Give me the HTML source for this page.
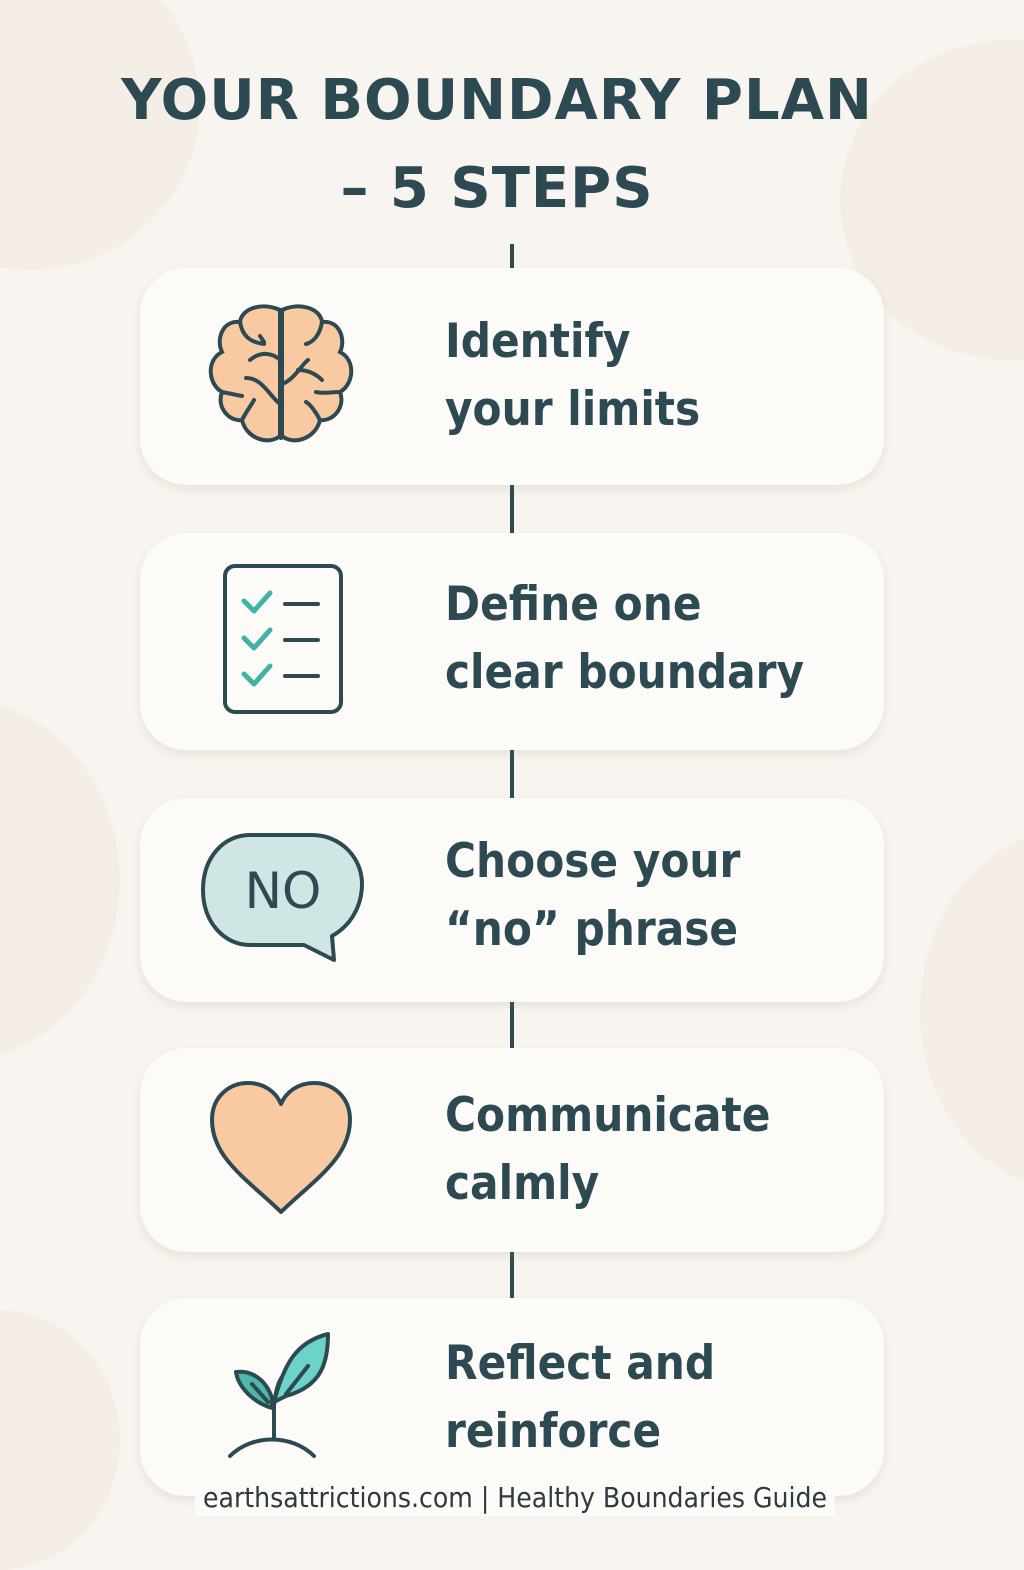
<!DOCTYPE html>
<html><head><meta charset="utf-8"><style>
body{margin:0;width:1024px;height:1536px;background:#f8f4ef;position:relative;overflow:hidden;font-family:"DejaVu Sans","Liberation Sans",sans-serif;color:#2d4a53}
.blob{position:absolute;border-radius:50%;background:#f5eee7}
.title{position:absolute;left:0;width:994px;text-align:center;font-weight:bold;font-size:56px;letter-spacing:1px;color:#2d4a53}
.card{position:absolute;left:140px;width:744px;background:#fcfbf8;border-radius:46px;box-shadow:0 4px 10px rgba(150,120,100,0.15)}
.txt{position:absolute;left:305px;font-size:47px;line-height:68px;font-weight:bold;font-family:"DejaVu Sans Condensed","DejaVu Sans",sans-serif;color:#2d4a53}
.line{position:absolute;left:510px;width:4px;background:#2d4a53}
svg{position:absolute}
</style></head><body>
<div class="blob" style="left:-140px;top:-60px;width:340px;height:330px"></div>
<div class="blob" style="left:840px;top:40px;width:340px;height:320px"></div>
<div class="blob" style="left:-200px;top:700px;width:320px;height:360px"></div>
<div class="blob" style="left:920px;top:830px;width:300px;height:360px"></div>
<div class="blob" style="left:-120px;top:1310px;width:240px;height:260px"></div>
<div class="title" style="top:68px">YOUR BOUNDARY PLAN</div>
<div class="title" style="top:156px">– 5 STEPS</div>
<div class="line" style="top:244px;height:24px"></div>
<div class="line" style="top:485px;height:48px"></div>
<div class="line" style="top:750px;height:48px"></div>
<div class="line" style="top:1002px;height:46px"></div>
<div class="line" style="top:1252px;height:46px"></div>

<div class="card" style="top:268px;height:217px">
<svg style="left:62px;top:32px" width="160" height="150" viewBox="0 0 160 150"><g fill="#f9c9a2" stroke="#2d4a53" stroke-width="4" stroke-linecap="round">
<path d="M78 10 C60 2 40 8 38 22 C20 20 14 40 20 52 C4 60 6 84 20 92 C14 108 28 122 40 120 C44 138 66 146 78 136 Z"/>
<path d="M80 10 C98 2 118 8 120 22 C138 20 144 40 138 52 C154 60 152 84 138 92 C144 108 130 122 118 120 C114 138 92 146 80 136 Z"/></g>
<g fill="none" stroke="#2d4a53" stroke-width="4" stroke-linecap="round"><path d="M79 10 V138"/><path d="M38 22 C40 34 46 42 62 44"/><path d="M48 60 C60 50 72 54 78 60"/><path d="M62 42 L58 36"/><path d="M44 78 C60 78 66 94 78 104"/><path d="M20 92 L40 96"/><path d="M40 120 C44 112 50 104 52 100"/><path d="M120 22 C118 34 112 42 104 44"/><path d="M80 84 C92 80 100 64 106 60"/><path d="M96 70 C106 70 114 74 120 80"/><path d="M138 92 C128 92 122 94 114 92"/><path d="M118 120 C114 112 108 104 104 102"/></g></svg>
<div class="txt" style="top:40px">Identify<br>your limits</div></div>

<div class="card" style="top:533px;height:217px">
<svg style="left:82px;top:30px" width="122" height="152" viewBox="0 0 122 152"><rect x="3" y="3" width="116" height="146" rx="10" fill="none" stroke="#2d4a53" stroke-width="4"/>
<g fill="none" stroke="#3fb3a4" stroke-width="5" stroke-linecap="round" stroke-linejoin="round"><path d="M22 38 l10 10 l16 -18"/><path d="M22 75 l10 10 l16 -18"/><path d="M22 111 l10 10 l16 -18"/></g>
<g stroke="#2d4a53" stroke-width="4" stroke-linecap="round"><path d="M63 41 H96"/><path d="M63 77 H96"/><path d="M63 113 H96"/></g></svg>
<div class="txt" style="top:38px">Define one<br>clear boundary</div></div>

<div class="card" style="top:798px;height:204px">
<svg style="left:60px;top:34px" width="170" height="135" viewBox="0 0 170 135"><path d="M50 3 H112 C140 3 162 25 162 52 C162 75 150 94 132 104 L134 128 L104 113 H50 C24 113 3 90 3 58 C3 25 24 3 50 3 Z" fill="#cfe6e4" stroke="#2d4a53" stroke-width="4" stroke-linejoin="round"/>
<text x="83" y="76" text-anchor="middle" font-family="DejaVu Sans,sans-serif" font-size="50" fill="#2d4a53">NO</text></svg>
<div class="txt" style="top:30px">Choose your<br>“no” phrase</div></div>

<div class="card" style="top:1048px;height:204px">
<svg style="left:68px;top:32px" width="146" height="136" viewBox="0 0 146 136"><path d="M73 132 C40 100 4 78 4 40 C4 16 22 3 40 3 C56 3 68 12 73 24 C78 12 90 3 106 3 C124 3 142 16 142 40 C142 78 106 100 73 132 Z" fill="#f9c9a2" stroke="#2d4a53" stroke-width="4" stroke-linejoin="round"/></svg>
<div class="txt" style="top:34px">Communicate<br>calmly</div></div>

<div class="card" style="top:1298px;height:198px">
<svg style="left:82px;top:24px" width="110" height="140" viewBox="0 0 110 140"><g stroke="#2d4a53" stroke-width="4" fill="none" stroke-linecap="round" stroke-linejoin="round">
<path d="M8 134 C30 112 70 112 92 134"/><path d="M52 116 V84 C54 64 58 56 64 50"/>
<path d="M52 80 C62 42 74 20 106 12 C106 40 100 64 64 74 Z" fill="#6dd3c9"/><path d="M64 72 L86 44"/>
<path d="M50 86 C30 80 16 64 14 50 C30 48 44 58 50 76 Z" fill="#4fb8a8"/><path d="M46 80 L30 62"/></g></svg>
<div class="txt" style="top:32px">Reflect and<br>reinforce</div></div>

<div style="position:absolute;left:195px;top:1480px;width:640px;height:36px;background:#fcfbf8;font-size:28px;line-height:36px;text-align:center;color:#2d3a40;font-family:'DejaVu Sans Condensed','DejaVu Sans',sans-serif">earthsattrictions.com | Healthy Boundaries Guide</div>
</body></html>
